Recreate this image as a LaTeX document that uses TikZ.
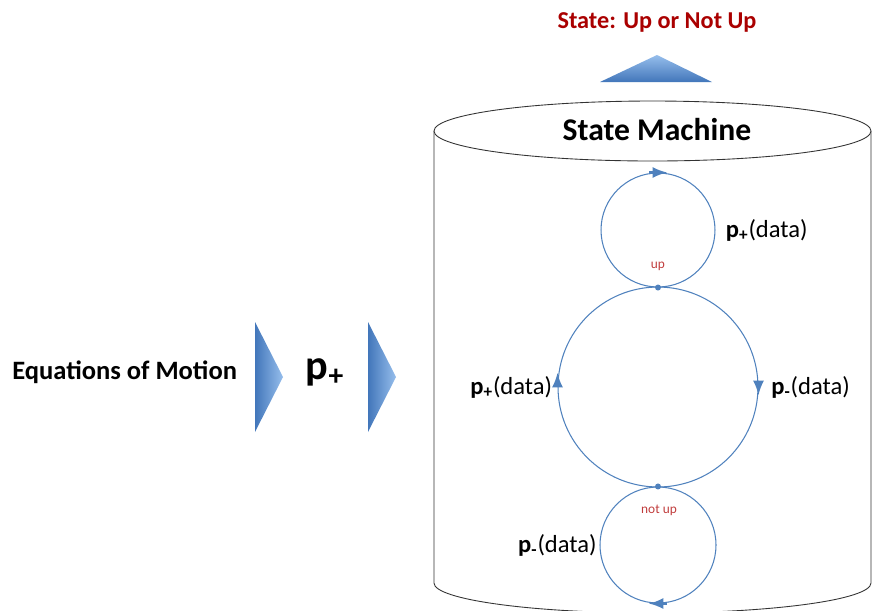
\documentclass[tikz,border=0pt]{standalone}
\usepackage{fontspec}
\setmainfont{Carlito}
\usepackage{xcolor}
\usepackage{tikz}
\usetikzlibrary{shapes,arrows,positioning}

\definecolor{loopblue}{RGB}{79,129,189}
\definecolor{darkblue}{RGB}{66,118,186}
\definecolor{lightblue}{RGB}{150,190,236}
\definecolor{titlered}{RGB}{170,0,0}
\definecolor{staterred}{RGB}{192,60,60}

\tikzset{
    statecircle/.style={circle,draw=loopblue,line width=0.6pt,inner sep=0pt},
    loopmark/.style={draw=loopblue,line width=1.8pt,-latex},
    datalabel/.style={font=\fontsize{14}{16}\selectfont,inner sep=0pt},
    statename/.style={font=\fontsize{7.6}{9}\selectfont,text=staterred,inner sep=0pt}
}

\begin{document}
\begin{tikzpicture}[x=0.02cm,y=-0.02cm]
                \useasboundingbox (0,0) rectangle (873,610);

                % cylinder
                \draw[
                    line width=0.5pt,
                    color=black!80
                    ] (434,131) -- (434,583)
                    arc[start angle=180, end angle=0, x radius=218.5, y radius=30]
                    -- (871,131);
                \draw[
                    line width=0.5pt,
                    color=black!80,
                    fill=white
                    ] (652.5,131) ellipse [x radius=218.5, y radius=30];
                \node[font=\bfseries\fontsize{18}{21}\selectfont] (machine) at (657,130) {State Machine};

                % output
                \node[font=\bfseries\fontsize{13.8}{16}\selectfont,text=titlered] (output) at (657,22) {State: Up or Not Up};
                \shade[
                    top color=lightblue,
                    bottom color=darkblue
                    ] (600,82) -- (657,55) -- (712,82) -- cycle;

                % input
                \node[font=\bfseries\fontsize{15.1}{18}\selectfont,anchor=west,inner sep=0pt] (eom) at (12,372) {Equations of Motion};
                \node[font=\bfseries\fontsize{24}{28}\selectfont] (pin) at (325,372) {p\textsubscript{+}};
                \shade[
                    left color=darkblue,
                    right color=lightblue
                    ] (255,322) -- (283,377) -- (255,432) -- cycle;
                \shade[
                    left color=darkblue,
                    right color=lightblue
                    ] (368,322) -- (396,377) -- (368,432) -- cycle;

                % states
                \node[statecircle,minimum size=2.28cm] (up) at (658,230) {};
                \node[statecircle,minimum size=4cm] (mid) at (658,387) {};
                \node[statecircle,minimum size=2.32cm] (notup) at (658,545) {};

                \fill[loopblue] (up.south) circle (3);
                \fill[loopblue] (notup.north) circle (3);

                \draw[loopmark] (up.north) ++(-9,0) -- ++(18,0);
                \draw[loopmark] (mid.west) ++(0,0) -- ++(0,-14);
                \draw[loopmark] (mid.east) ++(0,-6) -- ++(0,14);
                \draw[loopmark] (notup.south) ++(9,0) -- ++(-18,0);

                \node[statename] (uplabel) at (658,266) {up};
                \node[statename] (notuplabel) at (659,510) {not up};

                \node[datalabel,right=0.2cm of up] (upself) {\textbf{p\textsubscript{+}}(data)};
                \node[datalabel,left=0.1cm of mid] (goup) {\textbf{p\textsubscript{+}}(data)};
                \node[datalabel,right=0.25cm of mid] (godown) {\textbf{p\textsubscript{-}}(data)};
                \node[datalabel,left=0.05cm of notup] (downself) {\textbf{p\textsubscript{-}}(data)};

            \end{tikzpicture}
\end{document}
